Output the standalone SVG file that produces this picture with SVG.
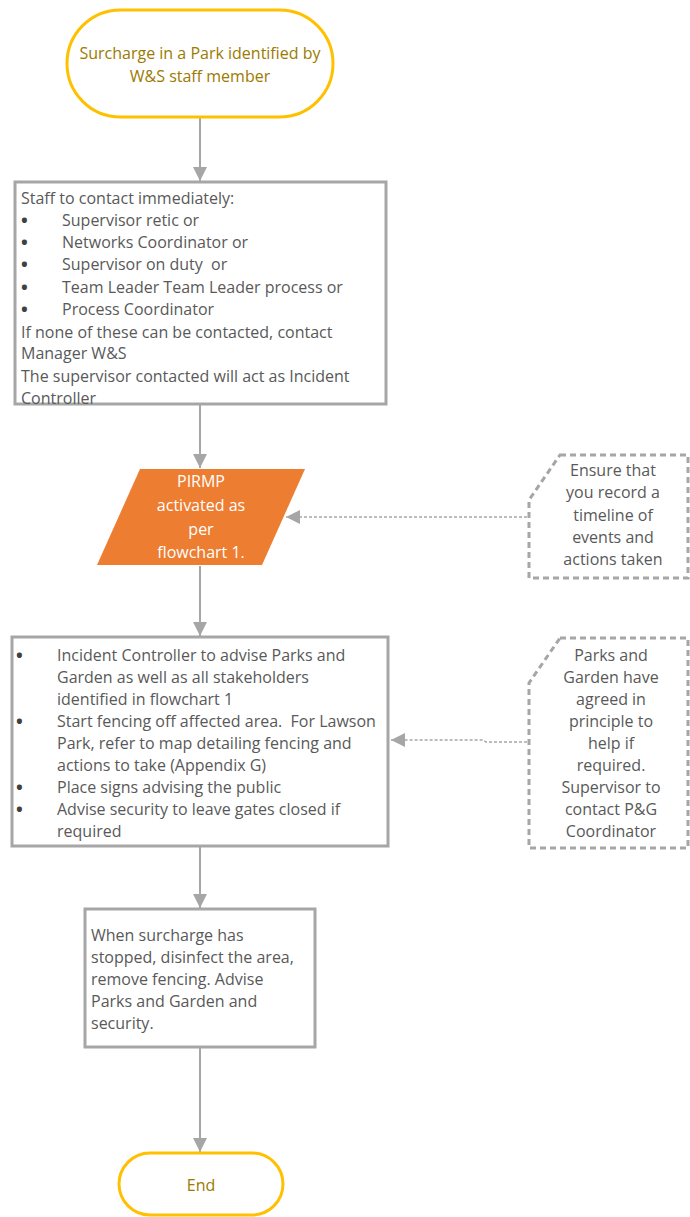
<svg xmlns="http://www.w3.org/2000/svg" width="690" height="1217" viewBox="0 0 690 1217">
<style>
text{font-family:"Open Sans","DejaVu Sans",sans-serif;font-size:16px;fill:#595959;white-space:pre}
.term{fill:#fff;stroke:#FFC000;stroke-width:3}
.termt{fill:#9C7A00;text-anchor:middle}
.box{fill:#fff;stroke:#A6A6A6;stroke-width:3}
.io{fill:#ED7D31;stroke:none}
.iot{fill:#fff;text-anchor:middle}
.note{fill:#fff;stroke:#A6A6A6;stroke-width:3;stroke-dasharray:6 4}
.nt{text-anchor:middle}
.b{font-size:18px;font-weight:bold;fill:#404040}
.c{fill:none;stroke:#A6A6A6;stroke-width:2}
.d{fill:none;stroke:#A6A6A6;stroke-width:1.5;stroke-dasharray:3 2}
</style>
<defs>
<marker id="ah2" markerWidth="14" markerHeight="14" refX="14" refY="7" orient="auto" markerUnits="userSpaceOnUse">
<path d="M0,0 L14,7 L0,14 z" fill="#A6A6A6"/>
</marker>
</defs>
<g id="connectors">
<line class="c" x1="200" y1="118" x2="200" y2="181" marker-end="url(#ah2)"/>
<line class="c" x1="200" y1="405" x2="200" y2="468" marker-end="url(#ah2)"/>
<line class="c" x1="200" y1="566" x2="200" y2="636" marker-end="url(#ah2)"/>
<line class="c" x1="200" y1="847" x2="200" y2="908" marker-end="url(#ah2)"/>
<line class="c" x1="200" y1="1048" x2="200" y2="1152" marker-end="url(#ah2)"/>
<line class="d" x1="527" y1="517" x2="286" y2="517" marker-end="url(#ah2)"/>
<polyline class="d" points="527,742 486,742 483,740 391,740" marker-end="url(#ah2)"/>
</g>
<g id="start">
<rect class="term" x="67" y="10" width="266" height="107" rx="53.5"/>
<text class="termt" x="200" y="59">Surcharge in a Park identified by</text>
<text class="termt" x="200" y="82">W&amp;S staff member</text>
</g>
<g id="contact">
<rect class="box" x="15" y="182" width="371" height="222"/>
<text x="21" y="204">Staff to contact immediately:</text>
<text class="b" x="21" y="227">•</text><text x="62" y="226">Supervisor retic or</text>
<text class="b" x="21" y="249">•</text><text x="62" y="248">Networks Coordinator or</text>
<text class="b" x="21" y="271">•</text><text x="62" y="270">Supervisor on duty  or</text>
<text class="b" x="21" y="294">•</text><text x="62" y="293">Team Leader Team Leader process or</text>
<text class="b" x="21" y="316">•</text><text x="62" y="315">Process Coordinator</text>
<text x="21" y="338">If none of these can be contacted, contact</text>
<text x="21" y="359">Manager W&amp;S</text>
<text x="21" y="382">The supervisor contacted will act as Incident</text>
<text x="21" y="404">Controller</text>
</g>
<g id="pirmp">
<polygon class="io" points="140,469 305,469 262,565 97,565"/>
<text class="iot" x="201" y="487">PIRMP</text>
<text class="iot" x="201" y="511">activated as</text>
<text class="iot" x="201" y="535">per</text>
<text class="iot" x="201" y="558">flowchart 1.</text>
</g>
<g id="note1">
<path class="note" d="M560,455 L688,455 L688,578 L529,578 L529,500 Z"/>
<text class="nt" x="613" y="476">Ensure that</text>
<text class="nt" x="613" y="498">you record a</text>
<text class="nt" x="613" y="521">timeline of</text>
<text class="nt" x="613" y="543">events and</text>
<text class="nt" x="613" y="565">actions taken</text>
</g>
<g id="advise">
<rect class="box" x="12" y="637" width="376" height="209"/>
<text class="b" x="16" y="662">•</text><text x="57" y="661">Incident Controller to advise Parks and</text>
<text x="57" y="683">Garden as well as all stakeholders</text>
<text x="57" y="705">identified in flowchart 1</text>
<text class="b" x="16" y="728">•</text><text x="57" y="727">Start fencing off affected area.  For Lawson</text>
<text x="57" y="749">Park, refer to map detailing fencing and</text>
<text x="57" y="771">actions to take (Appendix G)</text>
<text class="b" x="16" y="794">•</text><text x="57" y="793">Place signs advising the public</text>
<text class="b" x="16" y="816">•</text><text x="57" y="815">Advise security to leave gates closed if</text>
<text x="57" y="837">required</text>
</g>
<g id="note2">
<path class="note" d="M560,638 L688,638 L688,848 L529,848 L529,683 Z"/>
<text class="nt" x="611" y="661">Parks and</text>
<text class="nt" x="611" y="683">Garden have</text>
<text class="nt" x="611" y="705">agreed in</text>
<text class="nt" x="611" y="727">principle to</text>
<text class="nt" x="611" y="749">help if</text>
<text class="nt" x="611" y="771">required.</text>
<text class="nt" x="611" y="793">Supervisor to</text>
<text class="nt" x="611" y="815">contact P&amp;G</text>
<text class="nt" x="611" y="837">Coordinator</text>
</g>
<g id="stopped">
<rect class="box" x="85" y="909" width="230" height="138"/>
<text x="91" y="941">When surcharge has</text>
<text x="91" y="963">stopped, disinfect the area,</text>
<text x="91" y="985">remove fencing. Advise</text>
<text x="91" y="1007">Parks and Garden and</text>
<text x="91" y="1029">security.</text>
</g>
<g id="end">
<rect class="term" x="119" y="1153" width="164" height="62" rx="31"/>
<text class="termt" x="201" y="1191">End</text>
</g>
</svg>
